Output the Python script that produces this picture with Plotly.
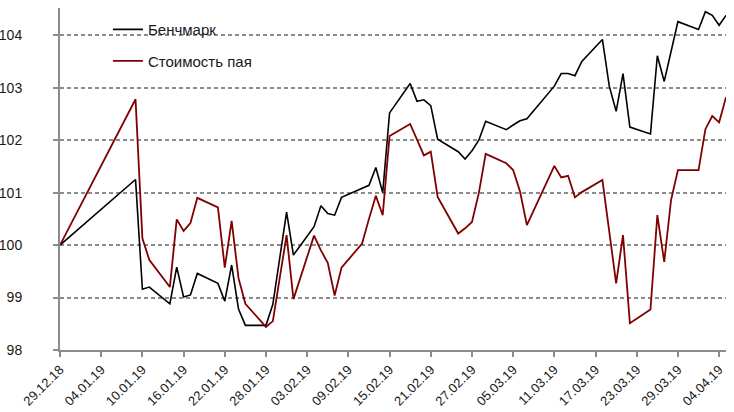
import plotly.graph_objects as go

# trading days shown on the chart
DATES = [
    "2018-12-29", "2019-01-09", "2019-01-10", "2019-01-11", "2019-01-14",
    "2019-01-15", "2019-01-16", "2019-01-17", "2019-01-18", "2019-01-21",
    "2019-01-22", "2019-01-23", "2019-01-24", "2019-01-25", "2019-01-28",
    "2019-01-29", "2019-01-31", "2019-02-01", "2019-02-04", "2019-02-05",
    "2019-02-06", "2019-02-07", "2019-02-08", "2019-02-11", "2019-02-12",
    "2019-02-13", "2019-02-14", "2019-02-15", "2019-02-18", "2019-02-19",
    "2019-02-20", "2019-02-21", "2019-02-22", "2019-02-25", "2019-02-26",
    "2019-02-27", "2019-02-28", "2019-03-01", "2019-03-04", "2019-03-05",
    "2019-03-06", "2019-03-07", "2019-03-11", "2019-03-12", "2019-03-13",
    "2019-03-14", "2019-03-15", "2019-03-18", "2019-03-19", "2019-03-20",
    "2019-03-21", "2019-03-22", "2019-03-25", "2019-03-26", "2019-03-27",
    "2019-03-28", "2019-03-29", "2019-04-01", "2019-04-02", "2019-04-03",
    "2019-04-04", "2019-04-05",
]

BENCHMARK = [
    100.00, 101.25, 99.16, 99.20, 98.88,
    99.58, 99.01, 99.05, 99.46, 99.27,
    98.93, 99.62, 98.78, 98.47, 98.47,
    98.87, 100.63, 99.81, 100.35, 100.75,
    100.60, 100.57, 100.91, 101.09, 101.14,
    101.48, 101.00, 102.52, 103.08, 102.74,
    102.77, 102.66, 102.02, 101.78, 101.64,
    101.80, 102.00, 102.36, 102.20, 102.29,
    102.37, 102.41, 103.03, 103.27, 103.27,
    103.23, 103.50, 103.92, 103.03, 102.55,
    103.27, 102.25, 102.12, 103.61, 103.12,
    103.69, 104.26, 104.11, 104.45, 104.38,
    104.19, 104.38,
]

FUND = [
    100.00, 102.78, 100.13, 99.72, 99.20,
    100.49, 100.27, 100.42, 100.90, 100.72,
    99.57, 100.46, 99.37, 98.88, 98.44,
    98.55, 100.19, 98.97, 100.18, 99.90,
    99.66, 99.04, 99.57, 100.03, 100.50,
    100.94, 100.57, 102.08, 102.31, 102.00,
    101.71, 101.78, 100.92, 100.22, 100.32,
    100.44, 100.99, 101.74, 101.56, 101.43,
    101.02, 100.38, 101.51, 101.29, 101.32,
    100.91, 101.01, 101.24, 100.25, 99.27,
    100.19, 98.51, 98.77, 100.57, 99.68,
    100.86, 101.43, 101.43, 102.21, 102.46,
    102.34, 102.82,
]

SERIES_NAMES = ["Бенчмарк", "Стоимость пая"]
Y_TICKS = [98, 99, 100, 101, 102, 103, 104]

AXIS = "#8c8c8c"
TEXT = "#1a1a1a"
FONT = "Liberation Sans, Arial, sans-serif"

fig = go.Figure()
fig.add_trace(go.Scatter(
    x=DATES, y=BENCHMARK, mode="lines", name=SERIES_NAMES[0],
    line=dict(color="#000000", width=1.6), legendgroup="a",
))
fig.add_trace(go.Scatter(
    x=DATES, y=FUND, mode="lines", name=SERIES_NAMES[1],
    line=dict(color="#800000", width=1.8), legendgroup="b",
))

fig.update_layout(
    width=734, height=412,
    paper_bgcolor="white", plot_bgcolor="white",
    font=dict(family=FONT, color=TEXT, size=13),
    margin=dict(l=60, r=8, t=8, b=62),
    showlegend=True,
    legend=dict(
        x=0.072, y=0.985, xanchor="left", yanchor="top",
        bgcolor="rgba(0,0,0,0)", font=dict(size=15, color=TEXT),
        tracegroupgap=9, itemwidth=30,
    ),
    xaxis=dict(
        type="date",
        range=["2018-12-29", "2019-04-05"],
        tick0="2018-12-29", dtick=6 * 86400000,
        tickformat="%d.%m.%y", tickangle=-45,
        tickfont=dict(size=13, color=TEXT),
        showgrid=False, zeroline=False,
        showline=True, linecolor=AXIS, linewidth=2,
        ticks="outside", ticklen=5, tickcolor=AXIS, tickwidth=1.5,
        automargin=False,
    ),
    yaxis=dict(
        range=[98, 104.52],
        tickvals=Y_TICKS,
        tickfont=dict(size=14, color=TEXT),
        showgrid=True, gridcolor=AXIS, gridwidth=1.5, griddash="4px,3px",
        zeroline=False,
        showline=True, linecolor=AXIS, linewidth=2,
        ticks="outside", ticklen=5, tickcolor=AXIS, tickwidth=1.5,
        ticklabelstandoff=28,
        automargin=False,
    ),
)

# page body has a default margin; drop it so the figure fills the window
fig.write_html(
    "out.html",
    config={"displayModeBar": False},
    post_script="document.body.style.margin = '0';",
)
